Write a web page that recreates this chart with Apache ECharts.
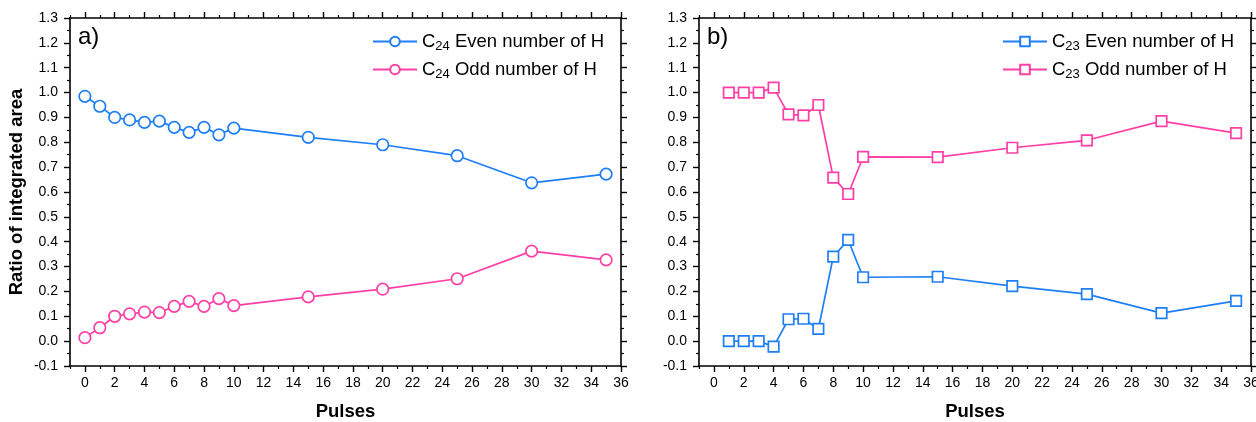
<!DOCTYPE html>
<html>
<head>
<meta charset="utf-8">
<script src="https://cdn.jsdelivr.net/npm/echarts@6/dist/echarts.min.js"></script>
<style>html,body{margin:0;padding:0;background:#fff;}#c{width:1256px;height:422px;}</style>
</head>
<body>
<div id="c"></div>
<script>
// ---- data ----
const pulsesA = [0,1,2,3,4,5,6,7,8,9,10,15,20,25,30,35];
const c24Even = [0.985,0.945,0.90,0.89,0.88,0.885,0.86,0.84,0.86,0.83,0.857,0.82,0.79,0.746,0.637,0.672];
const c24Odd  = [0.014,0.054,0.10,0.11,0.117,0.115,0.14,0.16,0.14,0.171,0.143,0.178,0.209,0.251,0.362,0.327];
const pulsesB = [1,2,3,4,5,6,7,8,9,10,15,20,25,30,35];
const c23Even = [0.0,0.0,0.0,-0.022,0.088,0.09,0.049,0.34,0.407,0.257,0.259,0.221,0.189,0.113,0.162];
const c23Odd  = [1.0,1.0,1.0,1.02,0.912,0.908,0.95,0.658,0.592,0.741,0.74,0.778,0.808,0.885,0.837];
const xMajorTicks = [0,2,4,6,8,10,12,14,16,18,20,22,24,26,28,30,32,34,36];
const xMinorTicks = [-1,1,3,5,7,9,11,13,15,17,19,21,23,25,27,29,31,33,35];
const yMin = -0.1, yMax = 1.3, yStep = 0.1;
const xMin = -1, xMax = 36;

const BLUE = '#1e7ff5', PINK = '#ff3fa5';
const FONT = 'Liberation Sans, Arial, sans-serif';

const grids = [
  {left: 70, top: 18, width: 551, height: 348, outerBoundsMode:'none', containLabel:false},
  {left: 699, top: 18, width: 552, height: 348, outerBoundsMode:'none', containLabel:false}
];

const axisLineStyle = {color: '#000', width: 1.6};
const xAxes = [], yAxes = [];
[0,1].forEach(g => {
  // bottom major
  xAxes.push({type:'value', gridIndex:g, position:'bottom', min:xMin, max:xMax,
    name:'Pulses', nameLocation:'middle', nameGap:36,
    nameTextStyle:{fontFamily:FONT, fontSize:18.5, fontWeight:'bold', color:'#000'},
    axisLine:{show:true, onZero:false, lineStyle:axisLineStyle},
    axisTick:{show:true, inside:false, length:6, lineStyle:{color:'#000', width:1.4}, customValues:xMajorTicks},
    axisLabel:{show:true, margin:10, fontFamily:FONT, fontSize:14, color:'#000', customValues:xMajorTicks},
    splitLine:{show:false}});
  // bottom minor
  xAxes.push({type:'value', gridIndex:g, position:'bottom', min:xMin, max:xMax,
    axisLine:{show:false, onZero:false},
    axisTick:{show:true, inside:false, length:3, lineStyle:{color:'#000', width:1.2}, customValues:xMinorTicks},
    axisLabel:{show:false}, splitLine:{show:false}});
  // top major
  xAxes.push({type:'value', gridIndex:g, position:'top', min:xMin, max:xMax,
    axisLine:{show:true, onZero:false, lineStyle:axisLineStyle},
    axisTick:{show:true, inside:false, length:6, lineStyle:{color:'#000', width:1.4}, customValues:xMajorTicks},
    axisLabel:{show:false}, splitLine:{show:false}});
  // top minor
  xAxes.push({type:'value', gridIndex:g, position:'top', min:xMin, max:xMax,
    axisLine:{show:false, onZero:false},
    axisTick:{show:true, inside:false, length:3, lineStyle:{color:'#000', width:1.2}, customValues:xMinorTicks},
    axisLabel:{show:false}, splitLine:{show:false}});

  yAxes.push({type:'value', gridIndex:g, position:'left', min:yMin, max:yMax, interval:yStep,
    name: g===0 ? 'Ratio of integrated area' : '', nameLocation:'middle', nameGap:44,
    nameTextStyle:{fontFamily:FONT, fontSize:18.5, fontWeight:'bold', color:'#000'},
    axisLine:{show:true, onZero:false, lineStyle:axisLineStyle},
    axisTick:{show:true, inside:false, length:6, lineStyle:{color:'#000', width:1.4}},
    minorTick:{show:true, splitNumber:2, length:3, lineStyle:{color:'#000', width:1.2}},
    axisLabel:{show:true, margin:12, fontFamily:FONT, fontSize:14, color:'#000',
      formatter: v => (Math.round(v*10)/10).toFixed(1)},
    splitLine:{show:false}, minorSplitLine:{show:false}});
  yAxes.push({type:'value', gridIndex:g, position:'right', min:yMin, max:yMax, interval:yStep,
    axisLine:{show:true, onZero:false, lineStyle:axisLineStyle},
    axisTick:{show:true, inside:false, length:6, lineStyle:{color:'#000', width:1.4}},
    minorTick:{show:true, splitNumber:2, length:3, lineStyle:{color:'#000', width:1.2}},
    axisLabel:{show:false}, splitLine:{show:false}, minorSplitLine:{show:false}});
});

function mkSeries(name, xs, ys, color, symbol, g) {
  return {
    name, type:'line', xAxisIndex:g*4, yAxisIndex:g*2,
    data: xs.map((x,i) => [x, ys[i]]),
    symbol, symbolSize: symbol==='circle' ? 11.5 : 10.5,
    showAllSymbol:true,
    lineStyle:{color, width:1.7},
    itemStyle:{color:'#fff', borderColor:color, borderWidth:1.7},
    emphasis:{disabled:true}, animation:false, z:3
  };
}

const series = [
  mkSeries('C24 Even number of H', pulsesA, c24Even, BLUE, 'circle', 0),
  mkSeries('C24 Odd number of H', pulsesA, c24Odd, PINK, 'circle', 0),
  mkSeries('C23 Even number of H', pulsesB, c23Even, BLUE, 'rect', 1),
  mkSeries('C23 Odd number of H', pulsesB, c23Odd, PINK, 'rect', 1)
];

const rich = {
  n:{fontFamily:FONT, fontSize:18.5, color:'#000'},
  s:{fontFamily:FONT, fontSize:13, color:'#000', padding:[10,0,0,0]}
};
function legendFmt(name) {
  const parts = name.split(' ');
  const sub = parts[0].slice(1);
  return '{n|C}{s|' + sub + '}{n| ' + parts.slice(1).join(' ') + '}';
}
function mkLegend(left, names) {
  return {
    left, top: 27, orient:'vertical', data: names,
    itemWidth:44, itemHeight:12, itemGap:7,
    formatter: legendFmt,
    textStyle:{rich, fontFamily:FONT, fontSize:18.5, color:'#000'},
    selectedMode:false
  };
}

const option = {
  backgroundColor:'#fff',
  animation:false,
  grid: grids,
  xAxis: xAxes,
  yAxis: yAxes,
  legend: [
    mkLegend(367, ['C24 Even number of H','C24 Odd number of H']),
    mkLegend(997, ['C23 Even number of H','C23 Odd number of H'])
  ],
  graphic: [
    {type:'text', left:78, top:25, style:{text:'a)', fontFamily:FONT, fontSize:24, fill:'#000'}},
    {type:'text', left:707, top:25, style:{text:'b)', fontFamily:FONT, fontSize:24, fill:'#000'}}
  ],
  series
};

const chart = echarts.init(document.getElementById('c'), null, {renderer:'canvas'});
chart.setOption(option);
</script>
</body>
</html>
